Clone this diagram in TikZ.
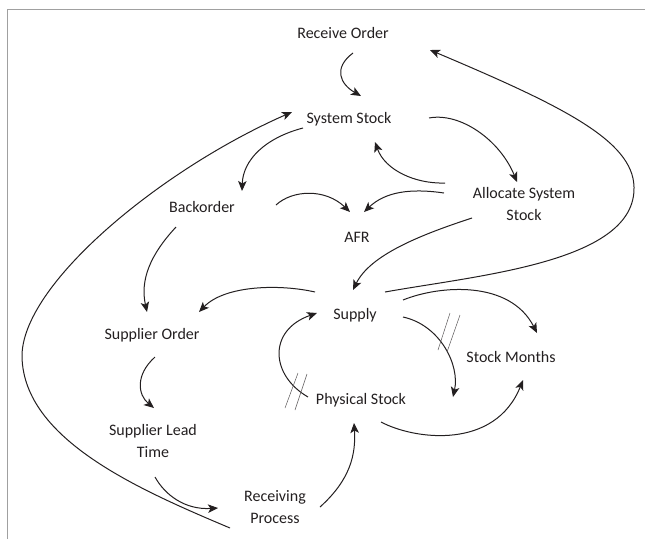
\documentclass[tikz,border=0pt]{standalone}
\usepackage{fontspec}
\setmainfont{Carlito}
\usetikzlibrary{arrows.meta,calc}
\definecolor{ink}{HTML}{231F20}
\definecolor{framegray}{HTML}{A0A0A0}
\begin{document}
\begin{tikzpicture}[x=1pt,y=-1pt,
  lbl/.style={font=\fontsize{16}{22}\selectfont, text=ink, align=center, inner sep=0pt},
  link/.style={line width=1pt, draw=ink, -{Stealth[length=10pt,width=8.5pt,inset=2.5pt]}},
  delay/.style={line width=0.5pt, draw=ink!75},
  frameline/.style={line width=1pt, draw=framegray}]
\useasboundingbox (0,0) rectangle (645,539);
% frame
\coordinate (fbl) at (7.5,539);
\coordinate (ftl) at (7.5,9.5);
\coordinate (ftr) at (645,9.5);
\draw[frameline] (fbl) -- (ftl) -- (ftr);

% nodes
\node[lbl] (ro)   at (343,33)  {Receive Order};
\node[lbl] (ss)   at (349,119) {System Stock};
\node[lbl] (bo)   at (202,207) {Backorder};
\node[lbl] (afr)  at (357,237) {AFR};
\node[lbl] (asys) at (524,204) {Allocate System\\Stock};
\node[lbl] (sup)  at (355,315) {Supply};
\node[lbl] (so)   at (152,335) {Supplier Order};
\node[lbl] (sm)   at (511,357) {Stock Months};
\node[lbl] (ps)   at (361,400) {Physical Stock};
\node[lbl] (slt)  at (153,441) {Supplier Lead\\Time};
\node[lbl] (rp)   at (275,507) {Receiving\\Process};
\coordinate (supend) at ($(ps)+(92,-3)$);

% connectors
\draw[link] ($(ro)+(10,20)$) .. controls (333,68) and (340,84) .. ($(ss)+(12,-23)$);
\draw[link] ($(ss)+(-46,9)$) .. controls (265,138) and (243,160) .. ($(bo)+(40,-16)$);
\draw[link] ($(ss)+(80,-1)$) .. controls (460,112) and (500,140) .. ($(asys)+(-7,-22)$);
\draw[link] ($(asys)+(-79,-21)$) .. controls (415,184) and (385,170) .. ($(ss)+(26,23)$);
\draw[link] ($(asys)+(-80,-11)$) .. controls (410,188) and (385,192) .. ($(afr)+(7,-25)$);
\draw[link] ($(bo)+(74,-2)$) .. controls (292,190) and (325,188) .. ($(afr)+(-7,-25)$);
\draw[link] ($(asys)+(-52,14)$) .. controls (420,235) and (370,255) .. ($(sup)+(-2,-25)$);
\draw[link] ($(sup)+(30,-23)$) .. controls (480,275) and (636,262) .. (634,187)
   .. controls (633,140) and (560,105) .. ($(ro)+(87,17)$);
\draw[link] ($(rp)+(-45,21)$) .. controls (140,490) and (24,440) .. (22,357)
   .. controls (21,285) and (160,170) .. ($(ss)+(-57,-7)$);
\draw[link] ($(bo)+(-26,20)$) .. controls (150,255) and (140,280) .. ($(so)+(-5,-23)$);
\draw[link] ($(sup)+(-40,-23)$) .. controls (280,284) and (225,285) .. ($(so)+(47,-23)$);
\draw[link] ($(so)+(3,22)$) .. controls (135,375) and (138,395) .. ($(slt)+(1,-33)$);
\draw[link] ($(slt)+(2,36)$) .. controls (165,495) and (185,510) .. ($(rp)+(-57,1)$);
\draw[link] ($(rp)+(45,0)$) .. controls (350,480) and (356,455) .. ($(ps)+(-7,23)$);
\draw[link] ($(ps)+(-53,-3)$) .. controls (270,375) and (268,330) .. ($(sup)+(-38,-2)$);
\draw[link] ($(sup)+(48,2)$) .. controls (440,325) and (460,365) .. (supend);
\draw[link] ($(sup)+(48,-15)$) .. controls (440,285) and (510,280) .. ($(sm)+(26,-24)$);
\draw[link] ($(ps)+(20,22)$) .. controls (415,440) and (495,450) .. ($(sm)+(12,23)$);

% delay marks
\coordinate (d1a) at (285,408); \coordinate (d1b) at (298,373);
\coordinate (d1c) at (295,410); \coordinate (d1d) at (307,374);
\draw[delay] (d1a) -- (d1b);
\draw[delay] (d1c) -- (d1d);
\coordinate (d2a) at (438,350); \coordinate (d2b) at (450,313);
\coordinate (d2c) at (447,352); \coordinate (d2d) at (460,315);
\draw[delay] (d2a) -- (d2b);
\draw[delay] (d2c) -- (d2d);
\end{tikzpicture}
\end{document}
